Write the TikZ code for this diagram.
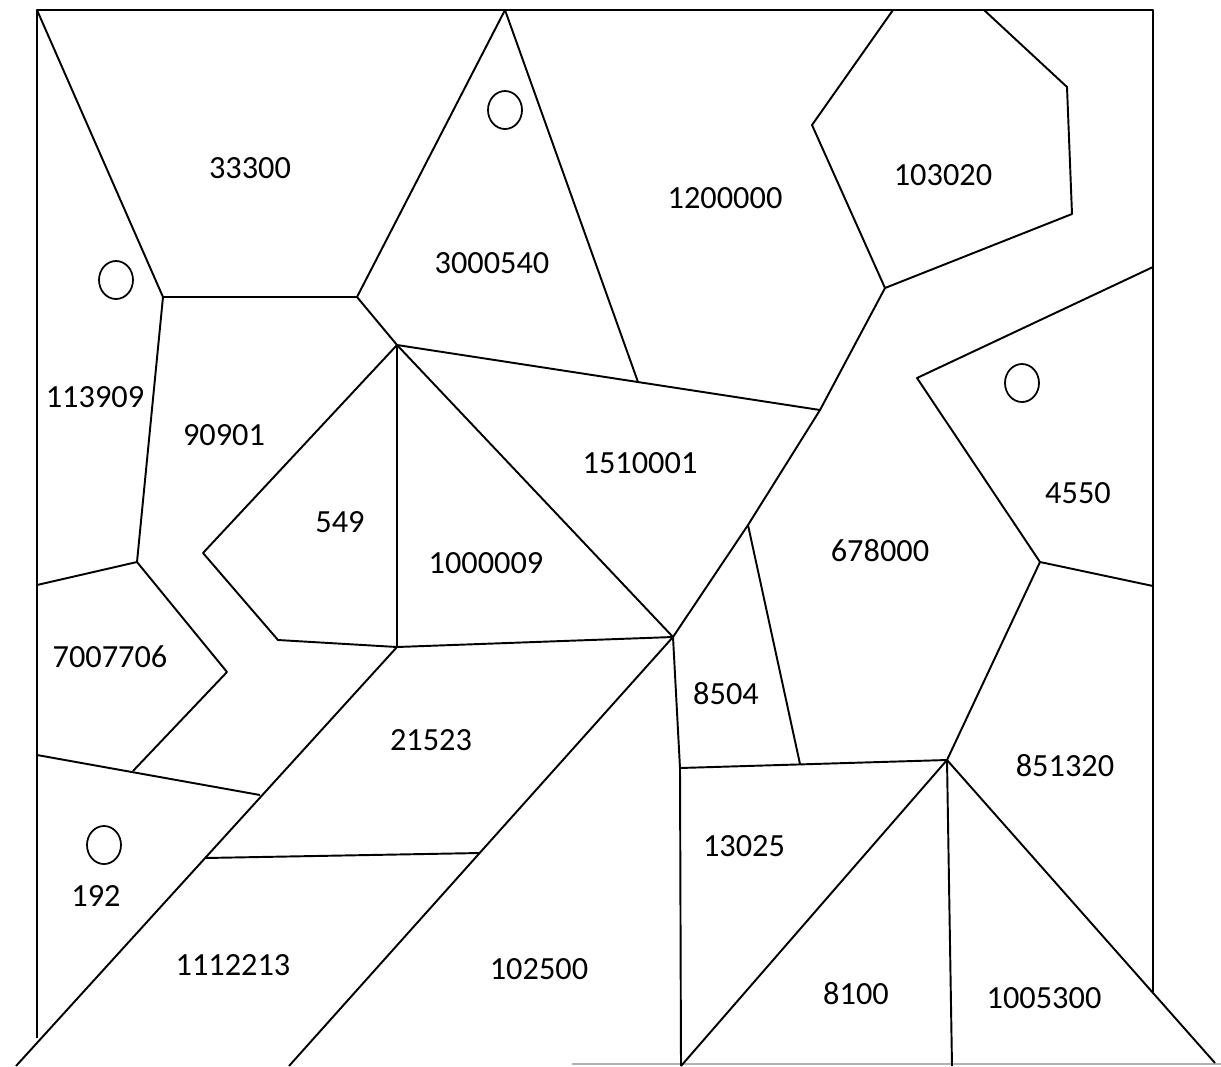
\documentclass[tikz,border=0pt]{standalone}
\usepackage{fontspec}
\setmainfont{Carlito}
\usepackage{tikz}

\tikzset{
  lot/.style={inner sep=0pt, font=\fontsize{18.4}{22}\selectfont},
  edge/.style={line width=1.1pt, line join=round},
  well/.style={line width=1pt},
}

\begin{document}
\begin{tikzpicture}[x=0.02cm, y=-0.02cm]
  \useasboundingbox (0,0) rectangle (1221,1066);

  % corners and junctions of the plots
  \coordinate (tl) at (37,10);     \coordinate (tr) at (1153,10);
  \coordinate (lb) at (37,1038);   \coordinate (rb) at (1153,992);
  \coordinate (b1) at (163,297);   \coordinate (c1) at (357,297);
  \coordinate (top1) at (505,10);  \coordinate (e1) at (397,345);
  \coordinate (f1) at (638,382);   \coordinate (f2) at (820,410);
  \coordinate (g1) at (885,288);   \coordinate (p1) at (673,637);
  \coordinate (q1) at (397,647);   \coordinate (h1) at (748,525);
  \coordinate (m1) at (680,768);   \coordinate (m2) at (800,764);
  \coordinate (r1) at (947,760);   \coordinate (s1) at (1040,562);
  \coordinate (k1) at (203,553);   \coordinate (k2) at (278,640);
  \coordinate (w1) at (137,562);   \coordinate (w2) at (227,672);
  \coordinate (w3) at (133,771);   \coordinate (u1) at (260,795);
  \coordinate (u2) at (205,858);   \coordinate (u3) at (480,853);

  % outer frame
  \draw[edge] (lb) -- (tl) -- (tr) -- (rb);
  \draw[gray!60, line width=1.2pt] (572,1064) -- (1221,1064);

  % upper left
  \draw[edge] (tl) -- (b1) -- (c1) -- (top1);
  \draw[edge] (c1) -- (e1) -- (f2);
  \draw[edge] (top1) -- (f1);
  \draw[edge] (b1) -- (w1) -- (37,585);
  \draw[edge] (w1) -- (w2) -- (w3);
  \draw[edge] (37,755) -- (u1);

  % centre
  \draw[edge] (e1) -- (k1) -- (k2) -- (q1) -- (p1) -- (e1) -- (q1);
  \draw[edge] (p1) -- (h1) -- (f2) -- (g1);
  \draw[edge] (h1) -- (m2);
  \draw[edge] (p1) -- (m1) -- (r1);
  \draw[edge] (m1) -- (681,1066);

  % diagonal strips
  \draw[edge] (q1) -- (16,1066);
  \draw[edge] (p1) -- (289,1066);
  \draw[edge] (u2) -- (u3);

  % top right
  \draw[edge] (893,10) -- (812,125) -- (g1) -- (1072,214) -- (1067,87) -- (984,10);
  \draw[edge] (1153,267) -- (917,378) -- (s1) -- (1153,586);
  \draw[edge] (s1) -- (r1);

  % lower right
  \draw[edge] (r1) -- (681,1066);
  \draw[edge] (r1) -- (952,1066);
  \draw[edge] (r1) -- (1215,1063);

  % wells
  \draw[well] (116,280) ellipse [x radius=17, y radius=19];
  \draw[well] (505,110) ellipse [x radius=17, y radius=19];
  \draw[well] (1022,383) ellipse [x radius=17, y radius=19];
  \draw[well] (104,845) ellipse [x radius=17, y radius=19];

  % plot values
  \node[lot] (v33300) at (250,168) {33300};
  \node[lot] (v3000540) at (492,263) {3000540};
  \node[lot] (v1200000) at (725,198) {1200000};
  \node[lot] (v103020) at (943,175) {103020};
  \node[lot] (v113909) at (95,397) {113909};
  \node[lot] (v90901) at (224,435) {90901};
  \node[lot] (v549) at (340,522) {549};
  \node[lot] (v1000009) at (486,563) {1000009};
  \node[lot] (v1510001) at (640,463) {1510001};
  \node[lot] (v678000) at (880,551) {678000};
  \node[lot] (v4550) at (1078,493) {4550};
  \node[lot] (v7007706) at (110,657) {7007706};
  \node[lot] (v8504) at (726,694) {8504};
  \node[lot] (v21523) at (431,740) {21523};
  \node[lot] (v851320) at (1065,766) {851320};
  \node[lot] (v13025) at (744,846) {13025};
  \node[lot] (v192) at (96,896) {192};
  \node[lot] (v1112213) at (233,965) {1112213};
  \node[lot] (v102500) at (539,969) {102500};
  \node[lot] (v8100) at (856,994) {8100};
  \node[lot] (v1005300) at (1044,998) {1005300};
\end{tikzpicture}
\end{document}
